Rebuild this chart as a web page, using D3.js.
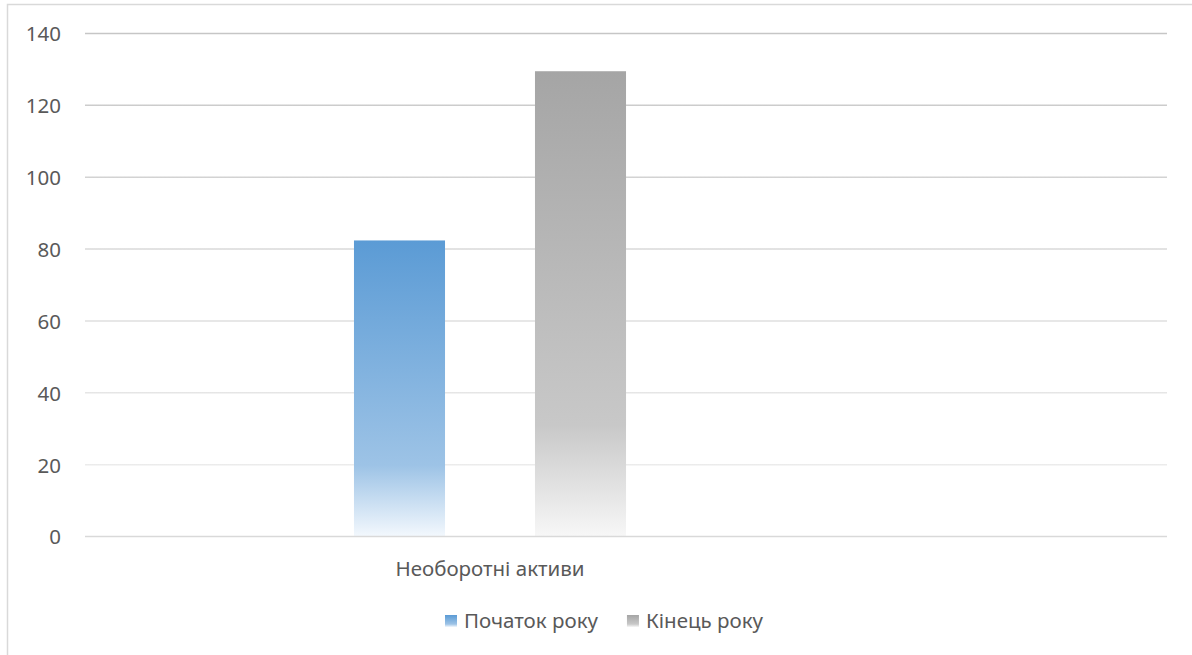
<!DOCTYPE html>
<html>
<head>
<meta charset="utf-8">
<script src="https://cdn.jsdelivr.net/npm/d3@7"></script>
<style>
  html, body { margin: 0; padding: 0; background: #fff; }
  svg { display: block; }
  text { font-family: "Noto Sans", "DejaVu Sans", sans-serif; fill: #595959; }
</style>
</head>
<body>
<svg id="chart" width="1192" height="655"></svg>
<script>
// Chart data
const categories = ["Необоротні активи"];
const series = ["Початок року", "Кінець року"];
const startOfYear = [82.4];
const endOfYear = [129.5];
const yTicks = [0, 20, 40, 60, 80, 100, 120, 140];

// Gradient colours per series: top, lower-middle, bottom
const seriesGradients = [
  ["#5b9bd5", "#9dc3e6", "#f3f8fd"],
  ["#a5a5a5", "#c8c8c8", "#f7f7f7"]
];

const W = 1192, H = 655;
const FONT = 20.5;
const plot = { left: 85, right: 1167, top: 33.5, bottom: 536.5 };

const svg = d3.select("#chart");
const defs = svg.append("defs");

// Outer chart frame
svg.append("rect")
  .attr("x", 7.5).attr("y", 4.5)
  .attr("width", W).attr("height", H)
  .attr("fill", "#fff")
  .attr("stroke", "#d9d9d9").attr("stroke-width", 1.5);

const y = d3.scaleLinear().domain([0, 140]).range([plot.bottom, plot.top]);

const x0 = d3.scaleBand()
  .domain(categories)
  .range([plot.left, plot.left + 810]);

const x1 = d3.scaleBand()
  .domain(series)
  .range([0, x0.bandwidth()])
  .paddingInner(0.497)
  .paddingOuter(1.486);

// Gridlines fade from darker at the top to lighter at the bottom
const gridGrad = defs.append("linearGradient")
  .attr("id", "gridGrad")
  .attr("gradientUnits", "userSpaceOnUse")
  .attr("x1", 0).attr("x2", 0)
  .attr("y1", plot.top).attr("y2", plot.bottom);
gridGrad.append("stop").attr("offset", 0).attr("stop-color", "#c6c6c6");
gridGrad.append("stop").attr("offset", 1).attr("stop-color", "#f2f2f2");

svg.append("g")
  .selectAll("line")
  .data(yTicks.filter(t => t > 0))
  .join("line")
  .attr("x1", plot.left).attr("x2", plot.right)
  .attr("y1", d => y(d)).attr("y2", d => y(d))
  .attr("stroke", "url(#gridGrad)")
  .attr("stroke-width", 1.5);

// Bar gradients
series.forEach((s, i) => {
  const g = defs.append("linearGradient")
    .attr("id", "barGrad" + i)
    .attr("x1", 0).attr("x2", 0).attr("y1", 0).attr("y2", 1);
  const c = seriesGradients[i];
  g.append("stop").attr("offset", 0).attr("stop-color", c[0]);
  g.append("stop").attr("offset", 0.76).attr("stop-color", c[1]);
  g.append("stop").attr("offset", 1).attr("stop-color", c[2]);
});

// Bars
const values = [startOfYear, endOfYear];
const barData = [];
categories.forEach((cat, ci) => {
  series.forEach((s, si) => {
    barData.push({ cat, s, si, v: values[si][ci] });
  });
});

svg.append("g")
  .selectAll("rect")
  .data(barData)
  .join("rect")
  .attr("x", d => x0(d.cat) + x1(d.s))
  .attr("y", d => y(d.v))
  .attr("width", x1.bandwidth())
  .attr("height", d => y(0) - y(d.v))
  .attr("fill", d => `url(#barGrad${d.si})`);

// Category axis baseline
svg.append("line")
  .attr("x1", plot.left).attr("x2", plot.right)
  .attr("y1", y(0)).attr("y2", y(0))
  .attr("stroke", "#d9d9d9").attr("stroke-width", 1.5);

// Y axis tick labels
const yAxis = d3.axisLeft(y).tickValues(yTicks).tickSize(0).tickPadding(0);
const yg = svg.append("g")
  .attr("transform", `translate(61,0)`)
  .call(yAxis);
yg.select(".domain").remove();
yg.attr("font-size", null).attr("font-family", null);
yg.selectAll("text")
  .attr("dy", "0.36em")
  .style("font-size", FONT + "px")
  .style("fill", "#595959");

// Category labels
const xAxis = d3.axisBottom(x0).tickSize(0).tickPadding(0);
const xg = svg.append("g")
  .attr("transform", `translate(0,${y(0)})`)
  .call(xAxis);
xg.select(".domain").remove();
xg.attr("font-size", null).attr("font-family", null);
xg.selectAll("text")
  .attr("y", 39)
  .attr("dy", 0)
  .style("font-size", FONT + "px")
  .style("fill", "#595959");

// Legend
const legend = svg.append("g").attr("transform", "translate(445,0)");
let lx = 0;
series.forEach((s, i) => {
  const item = legend.append("g").attr("transform", `translate(${lx},0)`);
  item.append("rect")
    .attr("x", 0).attr("y", 615)
    .attr("width", 12).attr("height", 12)
    .attr("fill", `url(#barGrad${i})`);
  const t = item.append("text")
    .attr("x", 19).attr("y", 628)
    .style("font-size", FONT + "px")
    .text(s);
  lx += 19 + t.node().getComputedTextLength() + 29;
});
</script>
</body>
</html>
